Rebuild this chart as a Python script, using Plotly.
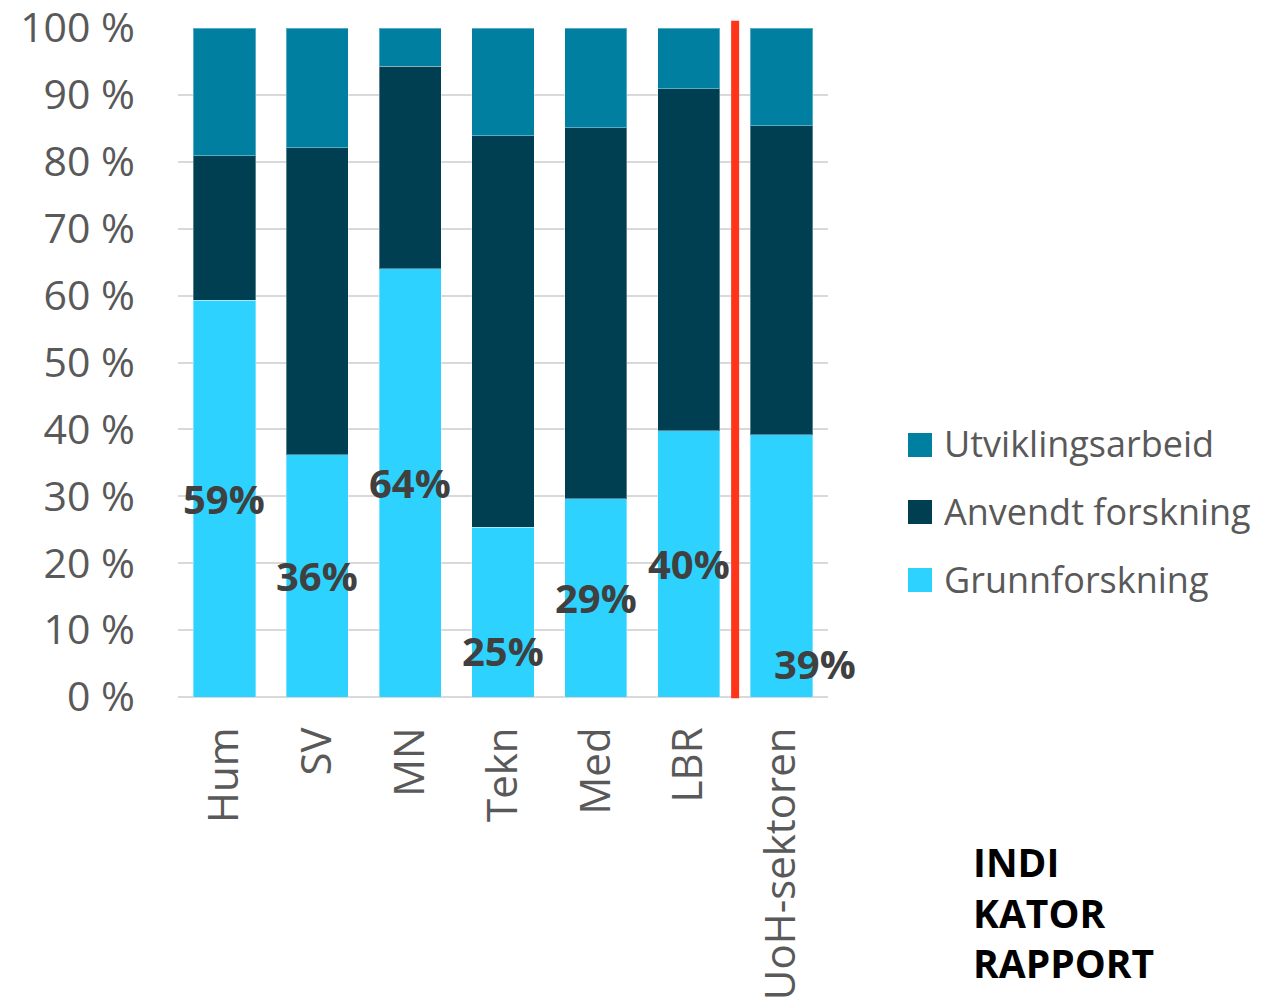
import plotly.graph_objects as go

categories = ["Hum", "SV", "MN", "Tekn", "Med", "LBR", "UoH-sektoren"]
grunnforskning = [59.3, 36.2, 64.0, 25.4, 29.6, 39.8, 39.2]
anvendt = [21.6, 45.9, 30.3, 58.5, 55.5, 51.1, 46.2]
utvikling = [19.1, 17.9, 5.7, 16.1, 14.9, 9.1, 14.6]
grunn_labels = ["59%", "36%", "64%", "25%", "29%", "40%", "39%"]
series_names = ["Utviklingsarbeid", "Anvendt forskning", "Grunnforskning"]
ytick_vals = [0, 10, 20, 30, 40, 50, 60, 70, 80, 90, 100]
ytick_text = ["0 %", "10 %", "20 %", "30 %", "40 %", "50 %", "60 %", "70 %", "80 %", "90 %", "100 %"]

C_GRUNN = "#2ED2FF"
C_ANV = "#003F52"
C_UTV = "#007FA1"
GRAY = "#595959"
FONT = "Open Sans"

W, H = 1256, 989
ML, MR, MT, MB = 170, 436, 20, 300
PW, PH = W - ML - MR, H - MT - MB

def px_to_paper(fx, fy):
    return (fx - ML) / PW, (H - MB - fy) / PH

edge = dict(color="rgba(255,255,255,0.35)", width=1)

fig = go.Figure()
fig.add_trace(go.Bar(x=categories, y=grunnforskning, name="Grunnforskning",
                     marker=dict(color=C_GRUNN, line=edge), showlegend=False))
fig.add_trace(go.Bar(x=categories, y=anvendt, name="Anvendt forskning",
                     marker=dict(color=C_ANV, line=edge), showlegend=False))
fig.add_trace(go.Bar(x=categories, y=utvikling, name="Utviklingsarbeid",
                     marker=dict(color=C_UTV, line=edge), showlegend=False))

# label placement tweaks (x shift in category units, y override)
label_dx = [0, 0, 0, 0, 0, 0, 0.36]
label_y_override = {3: 7.0, 6: 5.0}
for i, (cat, g, lab) in enumerate(zip(categories, grunnforskning, grunn_labels)):
    yy = label_y_override.get(i, g / 2)
    fig.add_annotation(x=i + label_dx[i], y=yy, xref="x", yref="y", text=lab,
                       showarrow=False,
                       font=dict(family=FONT, size=40, color="#404040", weight="bold"))

# red separator line between LBR and UoH-sektoren
fig.add_shape(type="line", xref="x", yref="paper", x0=5.5, x1=5.5, y0=-0.002, y1=1.011,
              line=dict(color="#FF3419", width=8))

# manual legend (large square swatches)
legend_colors = [C_UTV, C_ANV, C_GRUNN]
legend_centers_y = [437, 504, 572]
for name, col, cy in zip(series_names, legend_colors, legend_centers_y):
    x0, y0 = px_to_paper(900, cy + 12)
    x1, y1 = px_to_paper(924, cy - 12)
    fig.add_shape(type="rect", xref="paper", yref="paper", x0=x0, x1=x1, y0=y0, y1=y1,
                  fillcolor=col, line=dict(width=0))
    tx, ty = px_to_paper(934, cy - 1)
    fig.add_annotation(xref="paper", yref="paper", x=tx, y=ty, xanchor="left", yanchor="middle",
                       text=name, showarrow=False,
                       font=dict(family=FONT, size=36, color=GRAY))

tx, ty = px_to_paper(963, 904)
fig.add_annotation(xref="paper", yref="paper", x=tx, y=ty, xanchor="left", yanchor="middle",
                   text="INDI<br>KATOR<br>RAPPORT", showarrow=False, align="left",
                   font=dict(family=FONT, size=39, color="#000000", weight="bold"))

fig.update_layout(
    barmode="stack",
    bargap=0.33,
    width=W, height=H,
    margin=dict(l=ML, r=MR, t=MT, b=MB, autoexpand=False),
    paper_bgcolor="white", plot_bgcolor="white",
    font=dict(family=FONT, color=GRAY),
    showlegend=False,
    xaxis=dict(type="category", range=[-0.5, 6.5], tickangle=-90, automargin=False,
               tickfont=dict(family=FONT, size=42, color=GRAY), ticklabeloverflow="allow",
               showgrid=False, showline=False, ticks="", ticklabelstandoff=21),
    yaxis=dict(range=[0, 100], tickvals=ytick_vals, ticktext=ytick_text, automargin=False,
               tickfont=dict(family=FONT, size=41, color=GRAY), ticklabeloverflow="allow",
               showgrid=True, gridcolor="#D9D9D9", gridwidth=1.5,
               zeroline=True, zerolinecolor="#D9D9D9", zerolinewidth=1.5,
               showline=False, ticks="", ticklabelstandoff=42),
)

fig.write_html("out.html")
